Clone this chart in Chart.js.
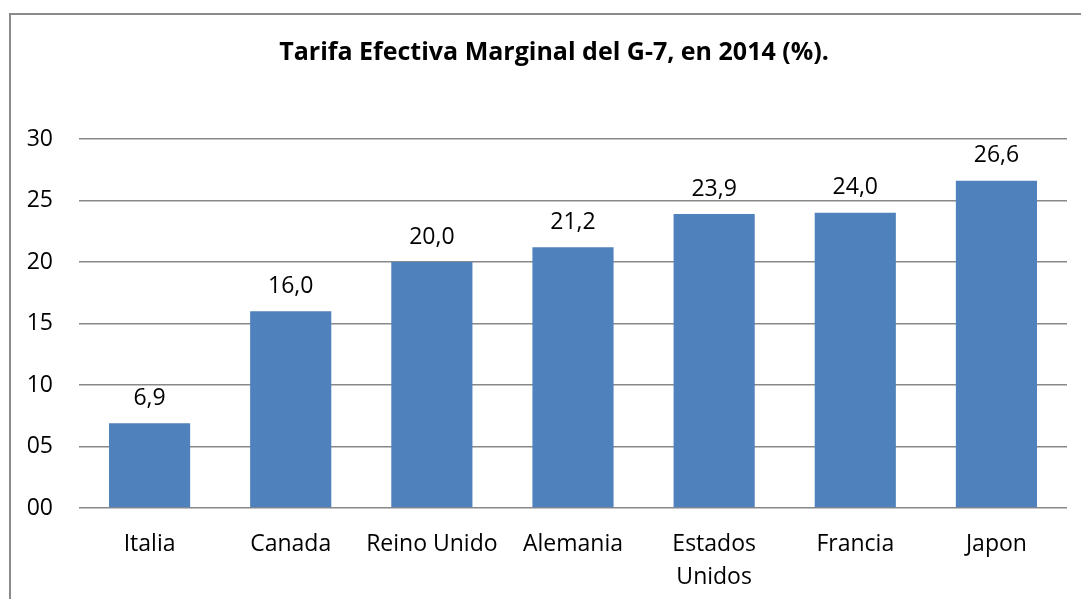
<!DOCTYPE html>
<html>
<head>
<meta charset="utf-8">
<script src="https://cdn.jsdelivr.net/npm/chart.js@4"></script>
<style>
  html, body { margin: 0; padding: 0; background: #fff; }
  #wrap { width: 1081px; height: 599px; position: relative; }
</style>
</head>
<body>
<div id="wrap"><canvas id="barChart" width="1081" height="599"></canvas></div>
<script>
var countries = ['Italia', 'Canada', 'Reino Unido', 'Alemania', ['Estados', 'Unidos'], 'Francia', 'Japon'];
var rates = [6.9, 16.0, 20.0, 21.2, 23.9, 24.0, 26.6];
var yTicks = [0, 5, 10, 15, 20, 25, 30];
var chartTitle = 'Tarifa Efectiva Marginal del G-7, en 2014 (%).';

var FONT = "'Open Sans', 'Noto Sans', sans-serif";

// grey frame and the title, centred on the frame rather than the plot
var frame = {
    id: 'frame',
    beforeDraw: function (chart) {
        var c = chart.ctx;
        c.save();
        c.strokeStyle = '#8a8a8a';
        c.lineWidth = 2;
        c.strokeRect(10, 14, 1200, 800);
        c.font = 'bold 25px ' + FONT;
        c.fillStyle = '#000';
        c.textAlign = 'center';
        c.textBaseline = 'middle';
        c.fillText(chartTitle, 554, 53);
        c.restore();
    }
};

// value labels above every bar
var barLabels = {
    id: 'barLabels',
    afterDatasetsDraw: function (chart) {
        var c = chart.ctx;
        var meta = chart.getDatasetMeta(0);
        c.save();
        c.font = '23px ' + FONT;
        c.fillStyle = '#000';
        c.textAlign = 'center';
        c.textBaseline = 'middle';
        meta.data.forEach(function (bar, i) {
            c.fillText(rates[i].toFixed(1).replace('.', ','), bar.x, bar.y - 25);
        });
        c.restore();
    }
};

var ctx = document.getElementById('barChart').getContext('2d');
var myChart = new Chart(ctx, {
    type: 'bar',
    data: {
        labels: countries,
        datasets: [{
            data: rates,
            backgroundColor: '#4f81bd',
            categoryPercentage: 1,
            barPercentage: 0.575
        }]
    },
    options: {
        responsive: false,
        animation: false,
        layout: { padding: { left: 0, right: 14, top: 139, bottom: 0 } },
        plugins: {
            legend: { display: false },
            tooltip: { enabled: false },
            title: { display: false }
        },
        scales: {
            x: {
                grid: { display: false },
                border: { display: false },
                ticks: {
                    color: '#000',
                    font: { family: FONT, size: 23, lineHeight: 1.43 },
                    padding: 12,
                    maxRotation: 0,
                    autoSkip: false
                },
                afterFit: function (s) { s.height = 91; }
            },
            y: {
                min: 0,
                max: 30,
                afterBuildTicks: function (s) {
                    s.ticks = yTicks.map(function (v) { return { value: v }; });
                },
                grid: { color: '#888', lineWidth: 1.5, drawTicks: false },
                border: { display: false },
                ticks: {
                    color: '#000',
                    font: { family: FONT, size: 23 },
                    padding: 26,
                    callback: function (v) { return (v < 10 ? '0' : '') + v; }
                },
                afterFit: function (s) { s.width = 79; }
            }
        }
    },
    plugins: [frame, barLabels]
});
</script>
</body>
</html>
